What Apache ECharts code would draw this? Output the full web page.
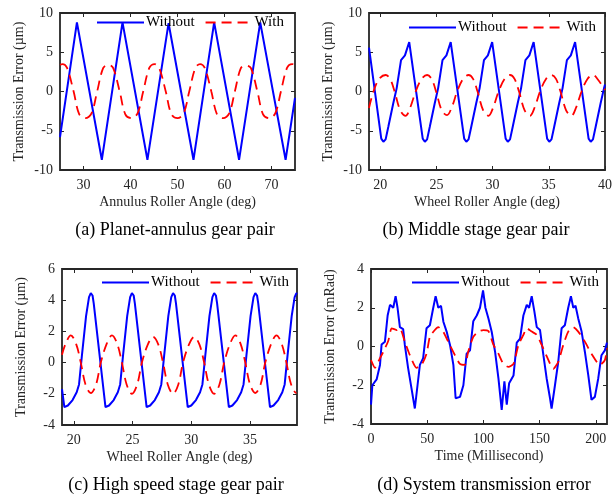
<!DOCTYPE html>
<html><head><meta charset="utf-8">
<script src="https://cdn.jsdelivr.net/npm/echarts@6/dist/echarts.min.js"></script>
<style>html,body{margin:0;padding:0;background:#fff}#c{width:616px;height:501px}</style>
</head><body><div id="c"></div>
<script>
// ---------- DATA ----------
const legendNames = ['Without', 'With'];

const captionA = '(a) Planet-annulus gear pair';
const captionB = '(b) Middle stage gear pair';
const captionC = '(c) High speed stage gear pair';
const captionD = '(d) System transmission error';

const yNameUm = 'Transmission Error (µm)';
const yNameMrad = 'Transmission Error (mRad)';
const xNameA = 'Annulus Roller Angle (deg)';
const xNameB = 'Wheel Roller Angle (deg)';
const xNameC = 'Wheel Roller Angle (deg)';
const xNameD = 'Time (Millisecond)';

const xTicksA = [30, 40, 50, 60, 70];
const xTicksB = [20, 25, 30, 35, 40];
const xTicksC = [20, 25, 30, 35];
const xTicksD = [0, 50, 100, 150, 200];

const withoutA = [[25,-5.8],[28.6,8.8],[33.9,-8.7],[38.3,8.8],[43.6,-8.7],[48.1,8.7],[53.4,-8.7],[57.8,8.8],[63.1,-8.7],[67.6,8.8],[73.0,-8.7],[75,-0.8]];
const withA = [[25,3.4],[25.5,3.5],[26.5,3.0],[27.9,0],[29.1,-2.9],[30.4,-3.4],[31.7,-2.8],[32.9,0],[34.2,3.0],[35.3,3.4],[36.3,3.0],[37.7,0],[38.9,-2.9],[40.2,-3.4],[41.5,-2.8],[42.7,0],[44.0,3.0],[45.1,3.5],[46.1,3.0],[47.5,0],[48.7,-2.9],[50.0,-3.4],[51.3,-2.8],[52.5,0],[53.8,3.0],[54.8,3.5],[55.8,3.0],[57.2,0],[58.4,-2.9],[59.7,-3.4],[61.0,-2.8],[62.2,0],[63.5,3.0],[64.6,3.3],[65.6,3.0],[67.0,0],[68.2,-2.9],[69.5,-3.4],[70.8,-2.8],[72.0,0],[73.3,3.0],[74.4,3.5],[75,3.4]];

const withoutB = [[19,5.6],[20.09,-6.0],[20.28,-6.4],[20.48,-6.1],[20.72,-4.5],[21.16,-1.5],[21.46,0.4],[21.85,4.0],[22.2,4.6],[22.58,6.3],
 [23.78,-6.0],[23.97,-6.4],[24.17,-6.1],[24.41,-4.5],[24.85,-1.5],[25.15,0.4],[25.54,4.0],[25.89,4.6],[26.27,6.3],
 [27.47,-6.0],[27.66,-6.4],[27.86,-6.1],[28.1,-4.5],[28.54,-1.5],[28.84,0.4],[29.23,4.0],[29.58,4.6],[29.96,6.3],
 [31.16,-6.0],[31.35,-6.4],[31.55,-6.1],[31.79,-4.5],[32.23,-1.5],[32.53,0.4],[32.92,4.0],[33.27,4.6],[33.65,6.3],
 [34.85,-6.0],[35.04,-6.4],[35.24,-6.1],[35.48,-4.5],[35.92,-1.5],[36.22,0.4],[36.61,4.0],[36.96,4.6],[37.34,6.3],
 [38.54,-6.0],[38.73,-6.4],[38.93,-6.1],[39.17,-4.5],[39.61,-1.5],[39.91,0.4],[40,0.9]];
const withB = [[19,-2.1],[19.4,0],[19.9,1.6],[20.48,2.1],[20.88,1.6],[21.28,0],[21.78,-2.4],[22.25,-3.1],[22.68,-2.0],[23.15,0],[23.68,1.6],[24.17,2.1],[24.57,1.6],[24.97,0],[25.47,-2.4],[25.94,-3.0],[26.37,-2.0],[26.84,0],[27.37,1.6],[27.86,2.1],[28.26,1.6],[28.66,0],[29.16,-2.4],[29.63,-3.1],[30.06,-2.0],[30.53,0],[31.06,1.6],[31.55,2.1],[31.95,1.6],[32.35,0],[32.85,-2.4],[33.32,-3.1],[33.75,-2.0],[34.22,0],[34.75,1.6],[35.24,2.1],[35.64,1.6],[36.04,0],[36.54,-2.4],[37.01,-3.1],[37.44,-2.0],[37.91,0],[38.44,1.6],[38.93,2.1],[39.33,1.6],[40,0.2]];

const withoutC = [[19,-1.7],[19.2,-2.85],[19.5,-2.75],[19.9,-2.4],[20.25,-1.9],[20.45,-1.4],[20.7,0.5],[21.05,3.0],[21.3,4.2],[21.45,4.45],[21.6,4.3],[21.7,3.8],
 [22.7,-2.85],[23.0,-2.75],[23.4,-2.4],[23.75,-1.9],[23.95,-1.4],[24.2,0.5],[24.55,3.0],[24.8,4.2],[24.95,4.45],[25.1,4.3],[25.2,3.8],
 [26.2,-2.85],[26.5,-2.75],[26.9,-2.4],[27.25,-1.9],[27.45,-1.4],[27.7,0.5],[28.05,3.0],[28.3,4.2],[28.45,4.45],[28.6,4.3],[28.7,3.8],
 [29.7,-2.85],[30.0,-2.75],[30.4,-2.4],[30.75,-1.9],[30.95,-1.4],[31.2,0.5],[31.55,3.0],[31.8,4.2],[31.95,4.45],[32.1,4.3],[32.2,3.8],
 [33.2,-2.85],[33.5,-2.75],[33.9,-2.4],[34.25,-1.9],[34.45,-1.4],[34.7,0.5],[35.05,3.0],[35.3,4.2],[35.45,4.45],[35.6,4.3],[35.7,3.8],
 [36.7,-2.85],[37.0,-2.75],[37.4,-2.4],[37.75,-1.9],[37.95,-1.4],[38.2,0.5],[38.55,3.0],[38.8,4.2],[38.95,4.45],[39,4.4]];
const withC = [[19,0.5],[19.3,1.2],[19.75,1.75],[20.2,1.2],[20.6,0],[21.0,-1.4],[21.45,-1.95],[21.9,-1.4],[22.3,0],[22.8,1.2],[23.25,1.75],[23.7,1.2],[24.1,0],[24.5,-1.4],[24.95,-2.0],[25.4,-1.4],[25.8,0],[26.3,1.15],[26.75,1.65],[27.2,1.15],[27.6,0],[28.0,-1.4],[28.45,-2.0],[28.9,-1.4],[29.3,0],[29.8,1.15],[30.25,1.65],[30.7,1.15],[31.1,0],[31.5,-1.4],[31.95,-2.0],[32.4,-1.4],[32.8,0],[33.3,1.2],[33.75,1.75],[34.2,1.2],[34.6,0],[35.0,-1.4],[35.45,-1.95],[35.9,-1.4],[36.3,0],[36.8,1.2],[37.25,1.75],[37.7,1.2],[38.1,0],[38.5,-1.4],[38.95,-1.95],[39,-1.95]];

const withoutD = [[0,-3.0],[1.2,-2.0],[5,-1.7],[8,-0.95],[9.4,0.1],[12.4,0.25],[14.8,1.6],[16.9,2.15],[19.8,2.0],[21.9,2.6],[23.6,2.0],[25.7,1.0],[28.6,0.9],[30.1,0.08],[33,-1.1],[36,-2.15],[39,-3.2],[41.4,-2.0],[43.5,-0.95],[46.4,-0.6],[49.4,0.94],[52.4,1.1],[55.4,2.0],[57.5,2.6],[59.9,2.0],[62.3,2.1],[64.4,1.28],[67.3,0.77],[70.3,0.08],[73.3,-0.95],[75.3,-2.67],[79.2,-2.6],[82.2,-2.0],[85.1,-0.37],[88.1,-0.2],[91,1.3],[94.1,1.6],[97,2.0],[99.7,2.9],[101.8,2.0],[104.5,1.45],[107.4,0.76],[110.4,-0.27],[113.4,-1.65],[116.3,-3.27],[118.7,-1.8],[120.8,-3.0],[122.9,-1.9],[126.8,-1.5],[129.7,0.2],[132.6,0.4],[135.6,1.6],[138.6,2.15],[140.7,2.0],[143,2.6],[145.4,1.8],[147.5,1.0],[150.4,0.85],[153.4,-0.45],[156.3,-1.65],[159.3,-2.67],[160.7,-3.2],[163.7,-2.0],[166.6,-0.8],[169.6,0.94],[172.5,1.1],[175.5,2.0],[177.9,2.6],[180,2.0],[182,2.1],[184.4,1.45],[187.4,0.77],[190.3,-0.27],[193.3,-1.47],[196.2,-2.75],[199.2,-2.6],[202.2,-1.65],[205.1,-0.45],[208.1,-0.2],[210,0.2]];
const withD = [[0,-0.7],[3.6,-1.1],[8,-0.6],[11,-0.27],[15.4,0.3],[18.4,0.94],[22.8,0.85],[25.7,0.94],[30.1,0.25],[34.6,-0.45],[40.5,-1.1],[45,-0.95],[49.4,-0.37],[52.4,0.5],[56.8,0.85],[59.8,1.0],[64.2,0.77],[68.7,0.25],[74,-0.37],[79.1,-0.9],[83.5,-0.95],[86.5,-0.27],[91,0.5],[95.4,0.77],[99.9,0.85],[104.4,0.8],[109,0.08],[113.4,-0.37],[117.8,-0.9],[122.3,-1.05],[126.8,-0.9],[131.2,0.08],[135.6,0.6],[138.6,0.94],[143,0.77],[147.5,0.6],[151.9,0.08],[156.3,-0.5],[162.2,-1.15],[166.6,-0.8],[171.1,0.08],[175.5,0.77],[180,1.0],[184.4,0.77],[190.3,0.25],[196.2,-0.37],[203.6,-0.95],[208.1,-0.7],[210,-0.1]];

// ---------- LAYOUT ----------
const FONT = "'Liberation Serif', 'Times New Roman', serif";
const AX = '#262626';
const panels = [
  {grid:{left:60,top:13,width:235,height:157}, xr:[25,75], yr:[-10,10,5], xTicks:xTicksA, xName:xNameA, yName:yNameUm, s:[withoutA,withA], leg:{left:91,top:10}, cap:captionA, cp:[175,230]},
  {grid:{left:369,top:13,width:236,height:157}, xr:[19,40], yr:[-10,10,5], xTicks:xTicksB, xName:xNameB, yName:yNameUm, s:[withoutB,withB], leg:{left:403,top:15}, cap:captionB, cp:[476,230]},
  {grid:{left:62,top:269,width:235,height:156}, xr:[19,39], yr:[-4,6,2], xTicks:xTicksC, xName:xNameC, yName:yNameUm, s:[withoutC,withC], leg:{left:96,top:270}, cap:captionC, cp:[176,485]},
  {grid:{left:371,top:269,width:236,height:155}, xr:[0,210], yr:[-4,4,2], xTicks:xTicksD, xName:xNameD, yName:yNameMrad, s:[withoutD,withD], leg:{left:406,top:270}, cap:captionD, cp:[484,485]}
];

const grids=[], xAxes=[], yAxes=[], series=[], legends=[], graphics=[];
panels.forEach((p,i)=>{
  grids.push(Object.assign({show:true, borderColor:AX, borderWidth:1.8, backgroundColor:'transparent'}, p.grid));
  const tickStyle = {inside:true, length:4, lineStyle:{color:AX, width:1}};
  const noLine = {show:false, onZero:false};
  xAxes.push({type:'value', gridIndex:i, min:p.xr[0], max:p.xr[1], position:'bottom',
    axisLine:noLine, splitLine:{show:false},
    axisTick:Object.assign({customValues:p.xTicks}, tickStyle),
    axisLabel:{customValues:p.xTicks, margin:8, color:AX, fontFamily:FONT, fontSize:14},
    name:p.xName, nameLocation:'middle', nameGap:25, nameTextStyle:{color:AX, fontFamily:FONT, fontSize:14}});
  xAxes.push({type:'value', gridIndex:i, min:p.xr[0], max:p.xr[1], position:'top',
    axisLine:noLine, splitLine:{show:false},
    axisTick:Object.assign({customValues:p.xTicks}, tickStyle), axisLabel:{show:false}});
  yAxes.push({type:'value', gridIndex:i, min:p.yr[0], max:p.yr[1], interval:p.yr[2], position:'left',
    axisLine:noLine, splitLine:{show:false}, axisTick:tickStyle,
    axisLabel:{margin:7, color:AX, fontFamily:FONT, fontSize:14},
    name:p.yName, nameLocation:'middle', nameGap:34, nameTextStyle:{color:AX, fontFamily:FONT, fontSize:14}});
  yAxes.push({type:'value', gridIndex:i, min:p.yr[0], max:p.yr[1], interval:p.yr[2], position:'right',
    axisLine:noLine, splitLine:{show:false}, axisTick:tickStyle, axisLabel:{show:false}});
  series.push({type:'line', name:legendNames[0], xAxisIndex:2*i, yAxisIndex:2*i, data:p.s[0], symbol:'none',
    lineStyle:{color:'#0000ff', width:2}, itemStyle:{color:'#0000ff'}, animation:false});
  series.push({type:'line', name:legendNames[1], xAxisIndex:2*i, yAxisIndex:2*i, data:p.s[1], symbol:'none', smooth:(i===3?0.2:0.35),
    lineStyle:{color:'#ff0000', width:1.8, type:[10,6]}, itemStyle:{color:'#ff0000'}, animation:false});
  legends.push({left:p.leg.left, top:p.leg.top, data:legendNames, itemWidth:47, itemHeight:14, itemGap:10,
    selectedMode:false, itemStyle:{opacity:0, borderWidth:0},
    textStyle:{fontFamily:FONT, fontSize:15, color:'#000', padding:[0,0,0,-3]}});
  graphics.push({type:'text', x:p.cp[0], y:p.cp[1],
    style:{text:p.cap, fontFamily:FONT, fontSize:18, fill:'#000', align:'center', verticalAlign:'middle', textAlign:'center', textVerticalAlign:'middle'}});
});

const chart = echarts.init(document.getElementById('c'), null, {renderer:'canvas'});
chart.setOption({animation:false, backgroundColor:'#fff', grid:grids, xAxis:xAxes, yAxis:yAxes, series:series, legend:legends, graphic:graphics});
</script></body></html>
